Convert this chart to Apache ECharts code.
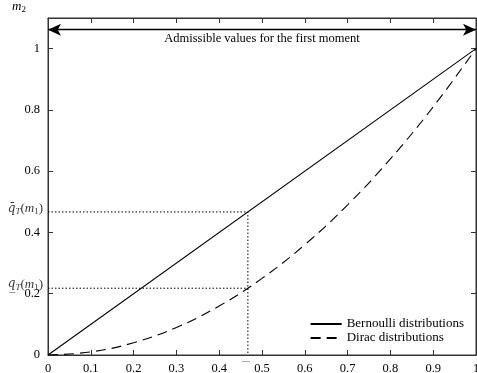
<!DOCTYPE html>
<html>
<head>
<meta charset="utf-8">
<script src="https://cdn.jsdelivr.net/npm/echarts@6/dist/echarts.min.js"></script>
<style>html,body{margin:0;padding:0;background:#fff}#c{width:477px;height:373px}</style>
</head>
<body>
<div id="c"></div>
<script>
// Data
var bernoulliX = [0, 1];
var bernoulliY = [0, 1];
var diracX = [0, 0.1, 0.2, 0.3, 0.4, 0.5, 0.6, 0.7, 0.8, 0.9, 1];
var diracY = [0, 0.01, 0.04, 0.09, 0.16, 0.25, 0.36, 0.49, 0.64, 0.81, 1];
var m1 = 0.467;
var qUpper = 0.467;
var qLower = 0.218;
var arrowLevel = 1.062;
var xTicks = [0, 0.1, 0.2, 0.3, 0.4, 0.5, 0.6, 0.7, 0.8, 0.9, 1];
var yTicks = [0, 0.2, 0.4, 0.6, 0.8, 1];
var seriesNames = ['Bernoulli distributions', 'Dirac distributions'];
var arrowText = 'Admissible values for the first moment';

var FONT = 'Liberation Serif';
var axisCol = '#333';
function zip(a, b) { return a.map(function (v, i) { return [v, b[i]]; }); }
function fmt(v) { return (Math.abs(v - Math.round(v)) < 1e-9) ? String(Math.round(v)) : String(+v.toFixed(1)); }

var chart = echarts.init(document.getElementById('c'), null, {renderer: 'canvas'});
var rich = {
  a: {fontFamily: FONT, fontSize: 13, fontStyle: 'italic', color: '#000'},
  q: {fontFamily: 'DejaVu Serif', fontSize: 12, fontStyle: 'italic', color: '#000'},
  n: {fontFamily: FONT, fontSize: 13, color: '#000'},
  s: {fontFamily: FONT, fontSize: 9, fontStyle: 'italic', color: '#000', verticalAlign: 'bottom', padding: [6, 0, 0, 0]},
  d: {fontFamily: FONT, fontSize: 9, color: '#000', verticalAlign: 'bottom', padding: [6, 0, 0, 0]}
};
var option = {
  animation: false,
  backgroundColor: '#fff',
  grid: {left: 48, right: 1, top: 18, bottom: 18, show: true, borderColor: axisCol, borderWidth: 1, outerBoundsMode: 'none', containLabel: false},
  legend: {
    data: seriesNames, orient: 'vertical', right: 8, bottom: 23, itemWidth: 31, itemHeight: 8, itemGap: 0,
    itemStyle: {opacity: 0},
    textStyle: {fontFamily: FONT, fontSize: 13, color: '#000', lineHeight: 14}
  },
  xAxis: [{
    type: 'value', min: 0, max: 1, interval: 0.1, position: 'bottom',
    axisLine: {show: true, onZero: false, lineStyle: {color: axisCol}},
    axisTick: {show: true, inside: true, length: 5, lineStyle: {color: axisCol}},
    axisLabel: {fontFamily: FONT, fontSize: 12.5, color: '#000', margin: 7, formatter: function (v) { return xTicks.indexOf(+v.toFixed(1)) >= 0 ? fmt(v) : ''; }},
    splitLine: {show: false}
  }, {
    type: 'value', min: 0, max: 1, interval: 0.1, position: 'top',
    axisLine: {show: true, onZero: false, lineStyle: {color: axisCol}},
    axisTick: {show: true, inside: true, length: 5, lineStyle: {color: axisCol}},
    axisLabel: {show: false}, splitLine: {show: false}
  }],
  yAxis: [{
    type: 'value', min: 0, max: 1.1, interval: 0.2, position: 'left',
    name: '{a|m}{d|2}', nameLocation: 'end', nameGap: 4,
    nameTextStyle: {rich: rich, align: 'right', padding: [0, 22, 0, 0]},
    axisLine: {show: true, onZero: false, lineStyle: {color: axisCol}},
    axisTick: {show: true, inside: true, length: 5, lineStyle: {color: axisCol}},
    axisLabel: {fontFamily: FONT, fontSize: 12.5, color: '#000', margin: 8, showMaxLabel: false,
      formatter: function (v) { return yTicks.indexOf(+v.toFixed(1)) >= 0 ? fmt(v) : ''; }},
    splitLine: {show: false}
  }, {
    type: 'value', min: 0, max: 1.1, interval: 0.2, position: 'right',
    axisLine: {show: true, onZero: false, lineStyle: {color: axisCol}},
    axisTick: {show: true, inside: true, length: 5, lineStyle: {color: axisCol}},
    axisLabel: {show: false}, splitLine: {show: false}
  }],
  series: [
    {
      name: seriesNames[0], type: 'line', data: zip(bernoulliX, bernoulliY), showSymbol: false, symbol: 'none',
      lineStyle: {color: '#000', width: 1.1, type: 'solid'}, itemStyle: {color: '#000'}, z: 5
    },
    {
      name: seriesNames[1], type: 'line', data: zip(diracX, diracY), showSymbol: false, symbol: 'none', smooth: 0.4,
      lineStyle: {color: '#000', width: 1.1, type: [10, 6]}, itemStyle: {color: '#000'}, z: 5
    },
    {
      name: 'upperGuide', type: 'line', data: [[0, qUpper], [m1, qUpper], [m1, 0]], symbol: 'none',
      lineStyle: {color: '#000', width: 1, type: [1.5, 2]}, z: 3, silent: true
    },
    {
      name: 'lowerGuide', type: 'line', data: [[0, qLower], [m1, qLower]], symbol: 'none',
      lineStyle: {color: '#000', width: 1, type: [1.5, 2]}, z: 3, silent: true
    },
    {
      name: 'labels', type: 'scatter', symbolSize: 0, silent: true,
      data: [
        {value: [0, qUpper], label: {show: true, position: 'left', distance: 5, offset: [0, -3], formatter: '{q|q\u0304}{s|T}{n|(}{a|m}{d|1}{n|)}', rich: rich}},
        {value: [0, qLower], label: {show: true, position: 'left', distance: 5, offset: [0, -4], formatter: '{q|q\u0332}{s|T}{n|(}{a|m}{d|1}{n|)}', rich: rich}},
        {value: [m1, 0], label: {show: true, position: 'bottom', distance: 0, offset: [-2, 0], formatter: '__', fontSize: 8, color: '#000', fontFamily: FONT}}
      ]
    },
    {
      name: 'arrow', type: 'line', data: [], symbol: 'none',
      markLine: {
        silent: true, symbol: ['arrow', 'arrow'], symbolSize: [9, 13],
        lineStyle: {color: '#000', width: 1.3, type: 'solid'},
        label: {show: true, position: 'insideMiddleBottom', formatter: arrowText, fontFamily: FONT, fontSize: 12.5, color: '#000', distance: 3},
        data: [[{coord: [0, arrowLevel]}, {coord: [1, arrowLevel]}]]
      }
    }
  ]
};
chart.setOption(option);
</script>
</body>
</html>
